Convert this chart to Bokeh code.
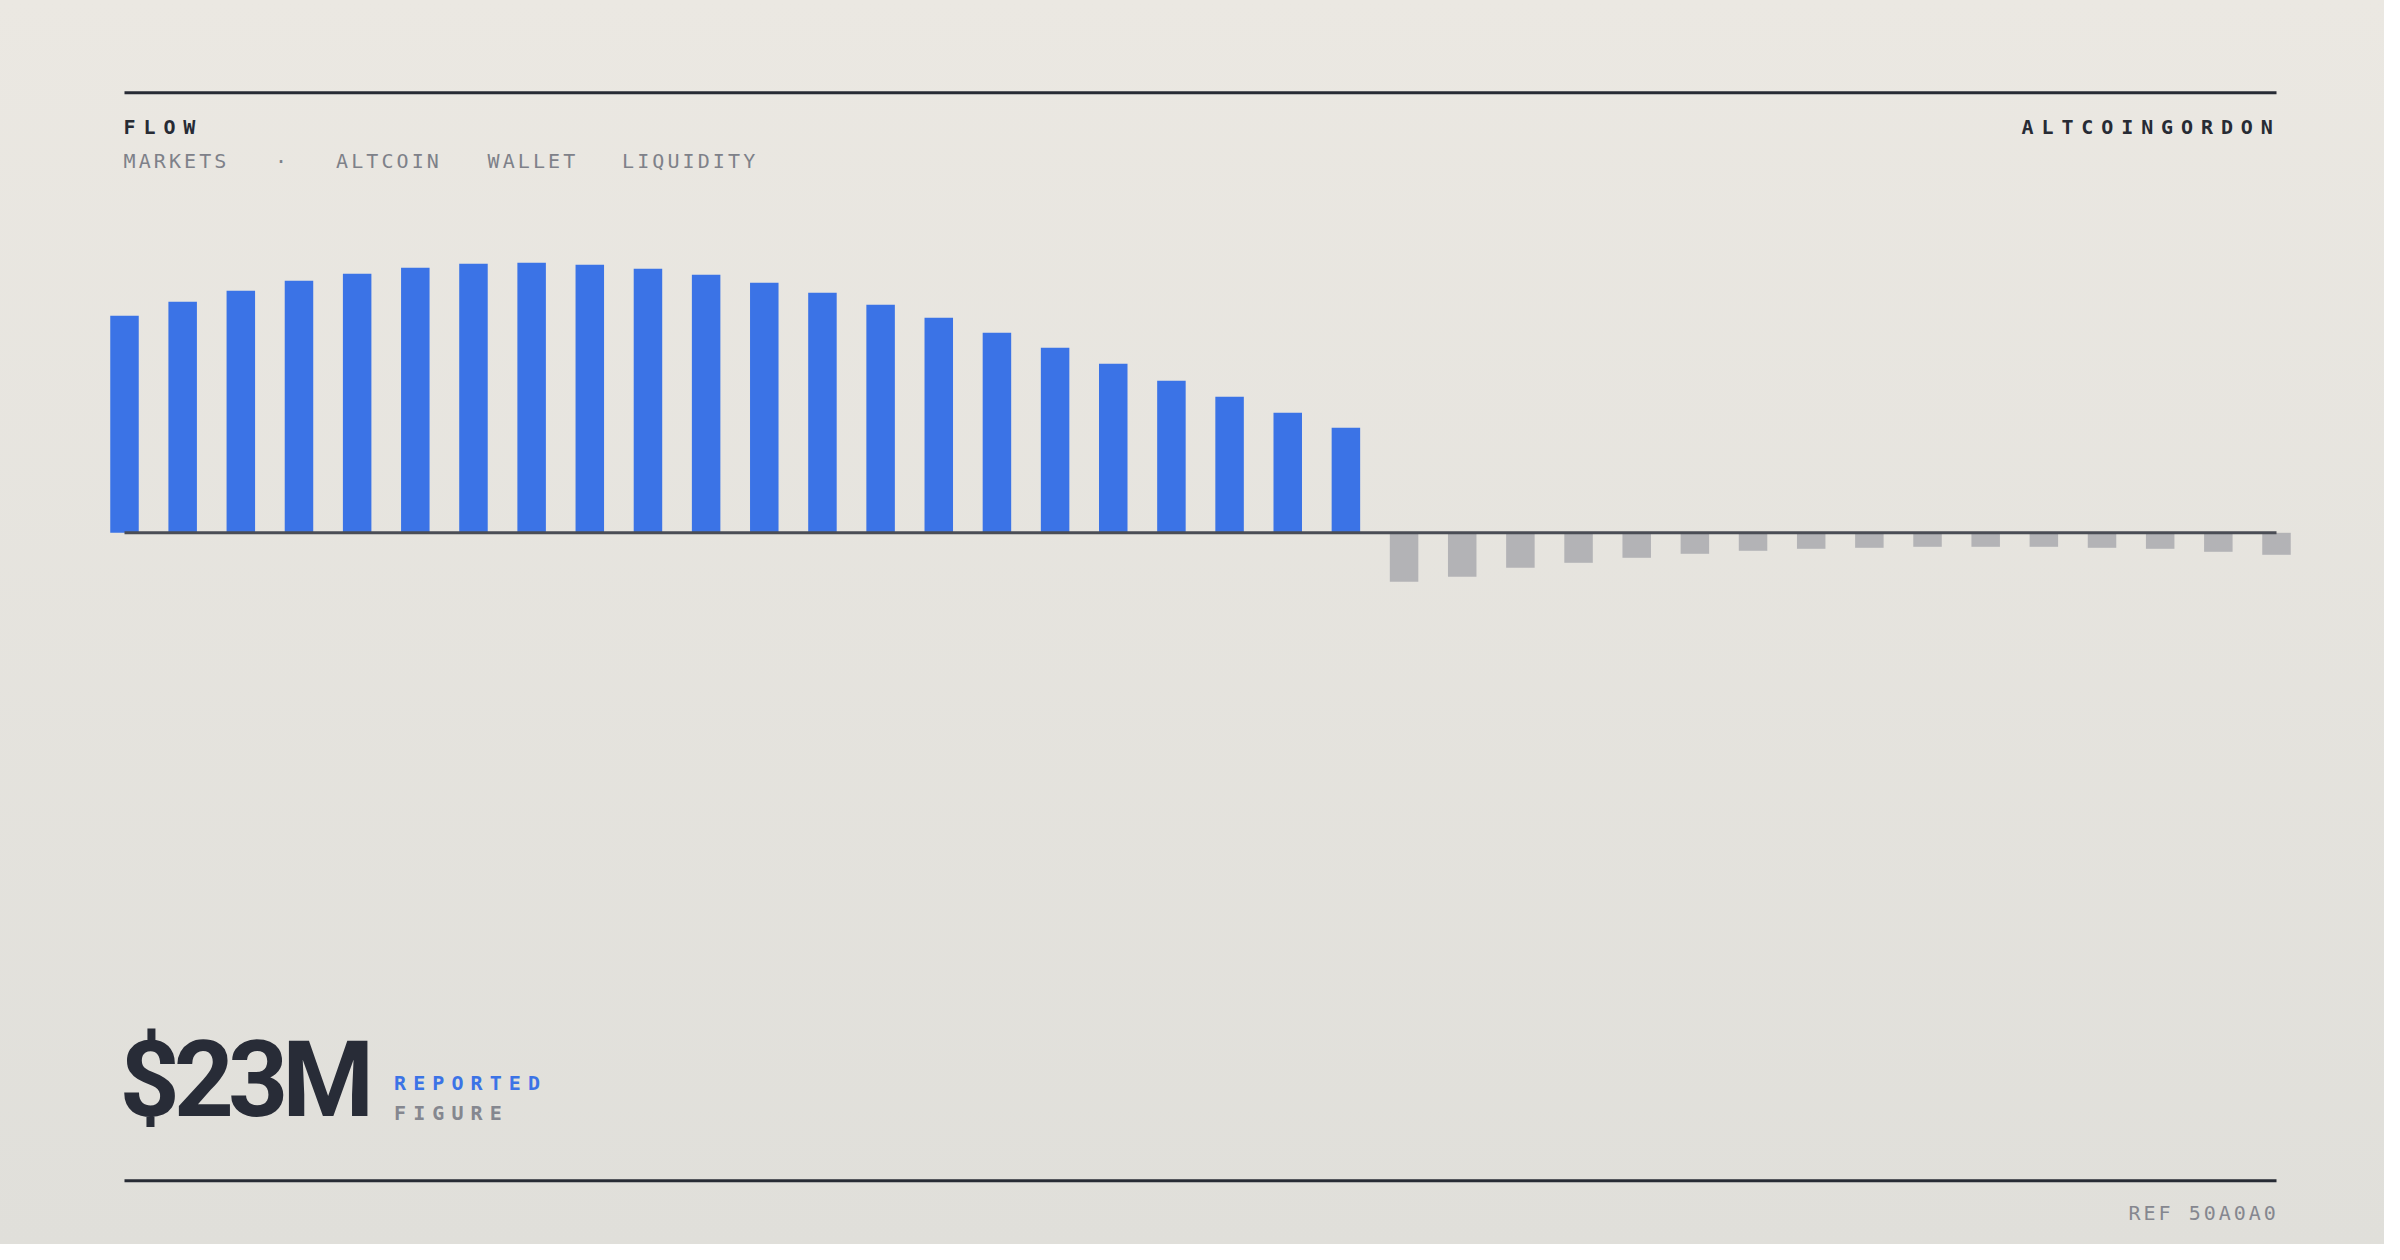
from bokeh.plotting import figure
from bokeh.models import Range1d, ColumnDataSource
from bokeh.layouts import column, row
from bokeh.core.properties import value
from bokeh.embed import file_html
from bokeh.resources import INLINE

# ---------------- data ----------------
inflow = [21.7, 23.1, 24.2, 25.2, 25.9, 26.5, 26.9, 27.0, 26.8, 26.4, 25.8,
          25.0, 24.0, 22.8, 21.5, 20.0, 18.5, 16.9, 15.2, 13.6, 12.0, 10.5]
outflow = [-4.9, -4.4, -3.5, -3.0, -2.5, -2.1, -1.8, -1.6, -1.5, -1.4, -1.4,
           -1.4, -1.5, -1.6, -1.9, -2.2]
title_text = "FLOW"
brand_text = "ALTCOINGORDON"
tag_texts = ["MARKETS", "·", "ALTCOIN", "WALLET", "LIQUIDITY"]
headline_text = "$23M"
headline_labels = ["REPORTED", "FIGURE"]
ref_text = "REF 50A0A0"

# ---------------- style / layout ----------------
PAGE_W = 2384
LEFT, RIGHT = 124, 2276
INK = "#272b34"
GRAY = "#7e8189"
BLUE = "#3b73e6"
NEG = "#b3b3b6"
MONO = value("DejaVu Sans Mono")
BG = "linear-gradient(180deg, #ebe8e2 0%, #e0dfda 100%)"
OFF20 = 7.7          # baseline correction for 20px text


def page_fig(x0, y0, w, h, spacing=None):
    styles = {"letter-spacing": f"{spacing}px"} if spacing is not None else {}
    f = figure(width=w, height=h,
               x_range=Range1d(x0, x0 + w), y_range=Range1d(y0 + h, y0),
               output_backend="svg", toolbar_location=None,
               x_axis_location=None, y_axis_location=None,
               min_border=0, styles=styles)
    f.grid.visible = False
    f.outline_line_color = None
    f.background_fill_color = None
    f.border_fill_color = None
    return f


# header band 1 : rule, title, brand
H1_Y, H1_H = 0, 146
fh1 = page_fig(0, H1_Y, PAGE_W, H1_H, spacing=7.9)
fh1.segment(x0=[LEFT], y0=[92.3], x1=[RIGHT], y1=[92.3], line_width=3, line_color=INK)
fh1.text(x=[123, 2021], y=[134.3 - OFF20] * 2, text=[title_text, brand_text], text_font=MONO,
         text_font_size="20px", text_font_style="bold", text_color=INK,
         text_baseline="alphabetic", text_align="left")

# header band 2 : tags
H2_Y, H2_H = H1_Y + H1_H, 66
fh2 = page_fig(0, H2_Y, PAGE_W, H2_H, spacing=3.1)
tag_x = [123, 274.5, 335.5, 487, 621.5]
fh2.text(x=tag_x, y=[167.7 - OFF20] * len(tag_texts), text=tag_texts, text_font=MONO,
         text_font_size="20px", text_color=GRAY, text_baseline="alphabetic", text_align="left")

# bars
B_Y, B_H = H2_Y + H2_H, 788
vals = inflow + outflow
n = len(vals)
pitch = (RIGHT - LEFT) / (n - 1)
ZERO_Y = 532.3
PX_PER_UNIT = 10.0
src = ColumnDataSource(dict(
    x=list(range(n)), v=vals,
    c=[BLUE] * len(inflow) + [NEG] * len(outflow)))
fb = figure(width=PAGE_W, height=B_H,
            x_range=Range1d(-LEFT / pitch, (PAGE_W - LEFT) / pitch),
            y_range=Range1d(-(B_Y + B_H - ZERO_Y) / PX_PER_UNIT, (ZERO_Y - B_Y) / PX_PER_UNIT),
            output_backend="svg", toolbar_location=None,
            x_axis_location=None, y_axis_location=None, min_border=0)
fb.grid.visible = False
fb.outline_line_color = None
fb.background_fill_color = None
fb.border_fill_color = None
fb.vbar(x="x", top="v", bottom=0, width=0.49, fill_color="c", line_color=None, source=src)
fb.segment(x0=[0], y0=[0], x1=[n - 1], y1=[0], line_width=3, line_color="#4a4d55")

# headline band
C_Y, C_H = B_Y + B_H, 150
C1_W = 385
fc1 = page_fig(0, C_Y, C1_W, C_H, spacing=-6)
fc1.text(x=[119], y=[1116.7 - 37], text=[headline_text], text_font=value("Roboto"),
         text_font_size="105px", text_font_style="bold", text_color="#282c37",
         text_baseline="alphabetic", text_align="left")
fc2 = page_fig(C1_W, C_Y, PAGE_W - C1_W, C_H, spacing=7.1)
fc2.text(x=[393.5, 393.5], y=[1090 - OFF20, 1120 - OFF20], text=headline_labels, text_font=MONO,
         text_font_size="20px", text_font_style="bold", text_color=[BLUE, "#85878f"],
         text_baseline="alphabetic", text_align="left")

# footer band
D_Y, D_H = C_Y + C_H, 94
fd = page_fig(0, D_Y, PAGE_W, D_H, spacing=3.0)
fd.segment(x0=[LEFT], y0=[1180.3], x1=[RIGHT], y1=[1180.3], line_width=3, line_color=INK)
fd.text(x=[2128], y=[1220 - OFF20], text=[ref_text], text_font=MONO, text_font_size="20px",
        text_color="#85878f", text_baseline="alphabetic", text_align="left")

layout = column(fh1, fh2, fb, row(fc1, fc2), fd, styles={"background": BG})

html = file_html(layout, INLINE, title="FLOW")
html = html.replace("<body>", '<body style="background: %s; background-attachment: fixed;">' % BG, 1)
open("out.html", "w").write(html)
